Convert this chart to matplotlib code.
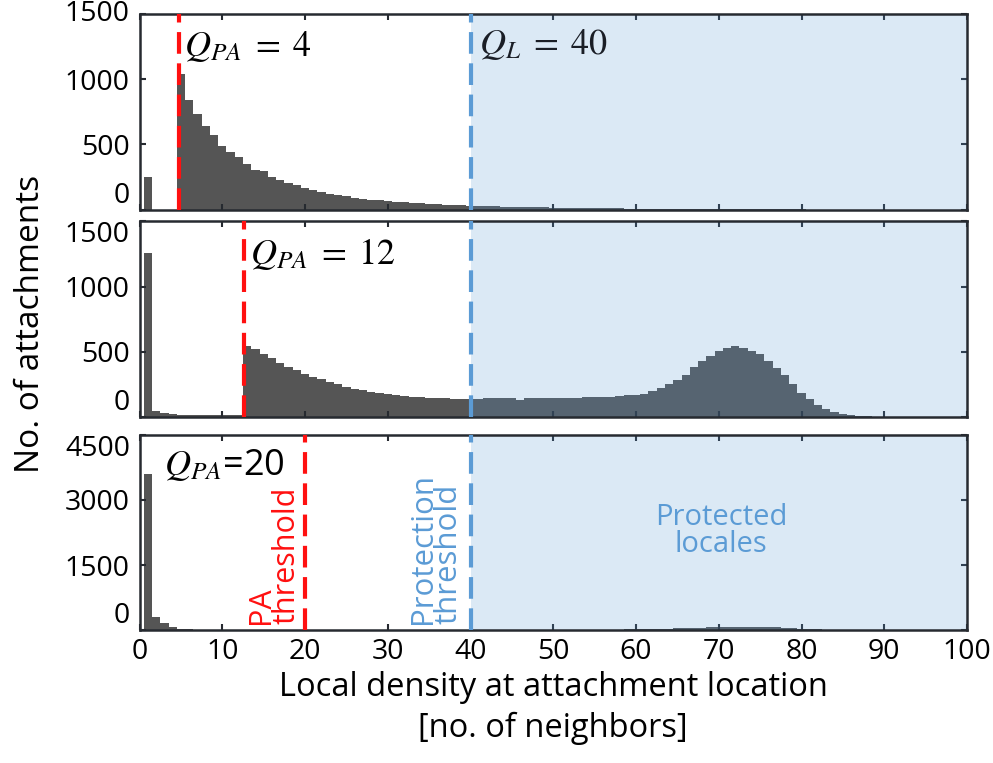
import numpy as np
import matplotlib
matplotlib.use("Agg")
import matplotlib.pyplot as plt

plt.rcParams['mathtext.fontset'] = 'stix'
plt.rcParams['font.family'] = ['Open Sans', 'DejaVu Sans']

# bin centers (no. of neighbours), histograms of attachments
density = np.arange(1, 101)

counts_pa4 = [252, 0, 0, 0, 1041, 842, 730, 638, 574, 487,
              441, 403, 352, 301, 295, 250, 224, 204, 186, 168,
              153, 135, 122, 110, 102, 92, 84, 77, 71, 66,
              61, 56, 54, 48, 46, 41, 38, 36, 33, 30,
              28, 26, 24, 22, 21, 20, 19, 18, 17, 16,
              15, 14, 13, 12, 11, 10, 9, 9, 8, 8,
              7, 7, 6, 6, 5, 5, 4, 4, 3, 3,
              3, 2, 2, 2, 2, 1, 1, 1, 1, 1,
              0, 0, 0, 0, 0, 0, 0, 0, 0, 0,
              0, 0, 0, 0, 0, 0, 0, 0, 0, 0]

counts_pa12 = [1260, 48, 30, 20, 15, 15, 14, 14, 14, 14,
               14, 14, 544, 518, 480, 450, 417, 386, 358, 333,
               310, 290, 269, 251, 231, 218, 206, 193, 183, 173,
               166, 160, 155, 150, 147, 144, 142, 140, 139, 138,
               137, 142, 142, 142, 142, 132, 142, 142, 142, 142,
               142, 142, 142, 150, 150, 152, 157, 160, 168, 172,
               180, 200, 226, 256, 284, 322, 386, 429, 470, 510,
               531, 543, 531, 510, 480, 429, 378, 320, 251, 183,
               137, 91, 61, 38, 23, 15, 8, 5, 3, 2,
               1, 1, 0, 0, 0, 0, 0, 0, 0, 0]

counts_pa20 = [3600, 300, 170, 60, 20, 12, 10, 9, 8, 7,
               6, 6, 5, 5, 5, 4, 4, 4, 3, 3,
               3, 3, 3, 3, 3, 3, 3, 3, 3, 3,
               3, 3, 3, 3, 3, 3, 3, 3, 3, 3,
               3, 3, 3, 3, 3, 3, 3, 3, 3, 4,
               4, 4, 5, 5, 6, 7, 8, 10, 12, 15,
               18, 22, 27, 32, 38, 44, 50, 56, 61, 65,
               68, 70, 71, 70, 68, 64, 58, 50, 40, 30,
               20, 12, 7, 4, 2, 1, 0, 0, 0, 0,
               0, 0, 0, 0, 0, 0, 0, 0, 0, 0]

q_pa = [4.7, 12.6, 20]
q_l = 40
pa_labels = [r'$Q_{PA}\;=\;4$', r'$Q_{PA}\;=\;12$', r'$Q_{PA}$=20']
ymax = [1500, 1500, 4500]
yticks = [[0, 500, 1000, 1500], [0, 500, 1000, 1500], [0, 1500, 3000, 4500]]
xticks = list(range(0, 101, 10))

bar_color = '#555555'
shade_color = '#5b9bd5'
red = '#ff1010'
edge = '#262a30'

fig = plt.figure(figsize=(9.93, 7.63), dpi=100)
left, right = 0.1406, 0.9738
boxes = [(0.7253, 0.9817), (0.4535, 0.7097), (0.1743, 0.4299)]
edges = np.append(density - 0.5, density[-1] + 0.5)

axes = []
for i, counts in enumerate([counts_pa4, counts_pa12, counts_pa20]):
    b, t = boxes[i]
    ax = fig.add_axes([left, b, right - left, t - b])
    ax.stairs(counts, edges, fill=True, color=bar_color, lw=0, zorder=1)
    ax.axvspan(q_l, 100, color=shade_color, alpha=0.22, lw=0, zorder=2)
    ax.axvline(q_pa[i], color=red, lw=3.0, ls=(0, (5.2, 2.3)), zorder=3)
    ax.axvline(q_l, color=shade_color, lw=3.0, ls=(0, (5.2, 2.3)), zorder=3)
    ax.set_xlim(0, 100)
    ax.set_ylim(0, ymax[i])
    ax.set_xticks(xticks)
    ax.set_yticks(yticks[i], labels=[str(v) for v in yticks[i]])
    ax.tick_params(direction='in', top=True, right=True, length=4, width=1.5,
                   labelsize=20.5, color=edge)
    ax.tick_params(axis='x', pad=6)
    ax.tick_params(axis='y', pad=7)
    ticks = ax.yaxis.get_major_ticks()
    ticks[0].label1.set_verticalalignment('bottom')
    ticks[-1].label1.set_verticalalignment('center' if i == 0 else 'top')
    for s in ax.spines.values():
        s.set_linewidth(1.8)
        s.set_color(edge)
    if i < 2:
        ax.set_xticklabels([])
    axes.append(ax)

ax1, ax2, ax3 = axes
ax1.text(5.4, 1245, pa_labels[0], fontsize=26, va='center', ha='left')
ax1.text(41.0, 1260, r'$Q_L\;=\;40$', fontsize=26, va='center', ha='left', color='#1a1e26')
ax2.text(13.3, 1240, pa_labels[1], fontsize=26, va='center', ha='left')
ax3.text(2.9, 3780, pa_labels[2], fontsize=26, va='center', ha='left')

ax3.text(19.6, 130, 'PA\nthreshold', rotation=90, color=red, fontsize=22,
         ha='right', va='bottom', multialignment='left', linespacing=0.82)
ax3.text(39.2, 130, 'Protection\nthreshold', rotation=90, color=shade_color, fontsize=22.5,
         ha='right', va='bottom', multialignment='left', linespacing=0.82)
ax3.text(70.3, 2290, 'Protected\nlocales', color=shade_color, fontsize=21,
         ha='center', va='center', multialignment='center', linespacing=0.9)

fig.text(0.557, 0.072, 'Local density at attachment location\n[no. of neighbors]',
         fontsize=23.5, linespacing=1.3, ha='center', va='center')
fig.text(0.031, 0.575, 'No. of attachments', rotation=90, fontsize=24,
         ha='center', va='center')

fig.savefig('out.png', dpi=100)
